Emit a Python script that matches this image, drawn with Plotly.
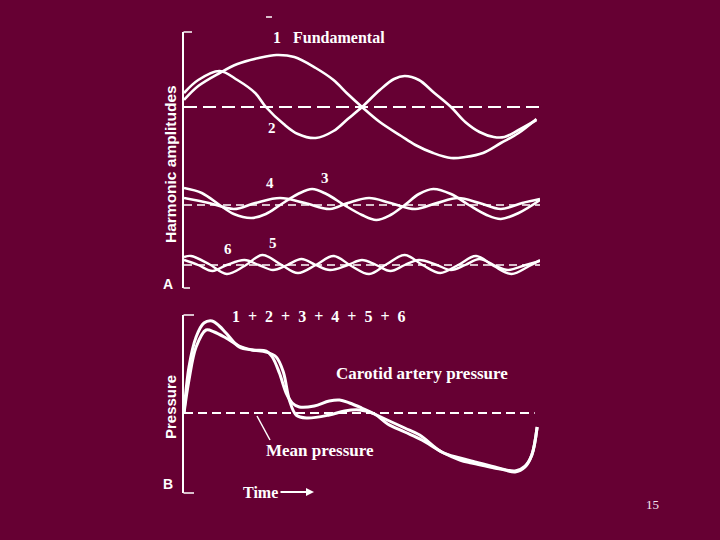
import plotly.graph_objects as go

W, H = 720, 540
BG = "#660033"
INK = "white"
SERIF = "Liberation Serif"
SANS = "Liberation Sans"

# time is in percent of one cardiac cycle
# panel A: harmonic amplitudes, relative to each dashed baseline (arbitrary units)
h1_t = [0, 4, 10, 15, 21, 26, 31, 37, 42, 46, 50, 55, 61, 65, 70, 75, 79, 84, 89, 94, 99]
h1_v = [7, 21, 34, 43, 49, 52, 50, 39, 27, 13, 0, -15, -29, -38, -46, -51, -50, -46, -36, -26, -12]

h2_t = [0, 4, 10, 15, 20, 23, 28, 32, 37, 42, 46, 50, 55, 59, 62, 66, 70, 75, 79, 83, 87, 90, 94, 99]
h2_v = [14, 27, 36, 27, 14, 0, -17, -27, -31, -24, -12, 0, 17, 28, 31, 27, 15, 0, -15, -25, -30, -30, -23, -13]

h3_t = [0, 5, 10, 14, 19, 23, 27, 32, 36, 40, 45, 50, 54, 58, 62, 66, 70, 75, 80, 85, 89, 94, 100]
h3_v = [17, 12, 0, -9, -13, -9, 0, 11, 16, 11, 0, -10, -15, -10, 0, 11, 16, 11, 0, -10, -14, -8, 5]

h4_t = [0, 7, 14, 20, 27, 34, 41, 46, 52, 58, 65, 71, 77, 83, 89, 95, 100]
h4_v = [7, 2, -4, 2, 7, 2, -4, 2, 7, 2, -4, 2, 7, 2, -4, 2, 6]

h5_t = [0, 2, 7, 12, 17, 22, 27, 32, 37, 42, 47, 52, 57, 62, 67, 72, 77, 82, 87, 92, 97, 100]
h5_v = [8, 9, 1, -9, -1, 10, 1, -8, 0, 9, -1, -9, 1, 10, 0, -8, 0, 9, -1, -9, -1, 5]

h6_t = [0, 4, 8, 12, 17, 21, 25, 29, 33, 37, 41, 46, 50, 54, 58, 62, 66, 71, 75, 79, 83, 87, 91, 96, 100]
h6_v = [5, 0, -6, 0, 5, 0, -5, 0, 6, 0, -5, 0, 5, 0, -6, 0, 5, 0, -5, 0, 6, 0, -5, 0, 4]

# panel B: pressure relative to mean pressure
sum_t = [0, 1.4, 3.4, 5.6, 7.9, 9.9, 11.8, 15.5, 19.2, 23.1, 24.8, 26.8, 28.7, 30.4, 32.4,
         36.6, 40.8, 43.7, 46.5, 49.9, 53.5, 57.7, 62.0, 66.2, 72.4, 77.5, 81.7, 87.3, 93.0,
         95.8, 97.7, 99.2]
sum_v = [0, 46, 76, 90, 92, 87, 80, 66, 63, 62, 56, 40, 20, 10, 6,
         7, 12, 13, 10, 5, -1, -8, -15, -22, -39, -45, -49, -54, -58,
         -53, -42, -14]

car_t = [0, 1.4, 3.4, 6.2, 8.5, 11.8, 15.5, 19.2, 23.1, 25.9, 27.9, 29.6, 31.5, 34.4, 40.8,
         45.1, 49.3, 53.5, 57.2, 62.0, 66.8, 72.4, 77.5, 80.8, 85.9, 90.1, 93.0, 95.8, 97.7, 99.2]
car_v = [0, 33, 66, 83, 81, 75, 67, 63, 61, 56, 41, 13, -2, -5, -2,
         2, 3, -1, -11, -19, -27, -39, -47, -50, -54, -57, -59, -54, -42, -14]

baseline_t = [0, 100]

# vertical offsets of the stacked harmonic pairs in panel A
OFF_12, OFF_34, OFF_56 = 181, 83, 23


def px(x):
    return x / W


def py(y):
    return 1 - y / H


fig = go.Figure()


def curve(t, v, off=0, axis="", width=2.6):
    fig.add_trace(go.Scatter(
        x=t, y=[off + a for a in v], mode="lines",
        line=dict(color=INK, width=width, shape="spline", smoothing=1),
        xaxis="x" + axis, yaxis="y" + axis, hoverinfo="skip"))


def dashed(off, axis="", width=2, dash="13px,6px", x_end=100):
    fig.add_trace(go.Scatter(
        x=[baseline_t[0], x_end], y=[off, off], mode="lines",
        line=dict(color=INK, width=width, dash=dash),
        xaxis="x" + axis, yaxis="y" + axis, hoverinfo="skip"))


dashed(OFF_12, width=2, dash="13px,6px")
dashed(OFF_34, width=1.5, dash="8px,5px", x_end=101)
dashed(OFF_56, width=1.5, dash="8px,5px")
curve(h1_t, h1_v, OFF_12)
curve(h2_t, h2_v, OFF_12)
curve(h3_t, h3_v, OFF_34)
curve(h4_t, h4_v, OFF_34)
curve(h5_t, h5_v, OFF_56, width=2.4)
curve(h6_t, h6_v, OFF_56, width=2.4)

dashed(0, axis="2", width=2, dash="9px,5px", x_end=98.5)
curve(sum_t, sum_v, axis="2", width=3)
curve(car_t, car_v, axis="2", width=3)

yax = dict(showline=True, linecolor=INK, linewidth=1.5, ticks="", showticklabels=False,
           showgrid=False, zeroline=False, fixedrange=True)
xax = dict(visible=False, range=[0, 100], domain=[px(184), px(540)], fixedrange=True)

fig.update_layout(
    width=W, height=H,
    margin=dict(l=0, r=0, t=0, b=0),
    paper_bgcolor=BG, plot_bgcolor=BG,
    showlegend=False,
    xaxis=dict(xax, anchor="y"),
    xaxis2=dict(xax, anchor="y2"),
    yaxis=dict(yax, range=[0, 256], domain=[py(288), py(32)], anchor="x"),
    yaxis2=dict(yax, range=[-80, 98], domain=[py(493), py(315)], anchor="x2"),
)

# bracket ends of the two vertical axes
for y_end, x_end in [(32, 192), (288, 190), (315, 194), (493, 194)]:
    fig.add_shape(type="line", xref="paper", yref="paper", x0=px(183.5), x1=px(x_end),
                  y0=py(y_end), y1=py(y_end), line=dict(color=INK, width=1.5))


def label(text, x, y, size=16, family=SERIF, bold=True, angle=0, xanchor="center", color=INK):
    fig.add_annotation(
        text=f"<b>{text}</b>" if bold else text,
        x=px(x), y=py(y), xref="paper", yref="paper",
        xanchor=xanchor, yanchor="middle", showarrow=False, textangle=angle,
        font=dict(family=family, size=size, color=color))


label("1\u2002 Fundamental", 271, 37, xanchor="left")
label("2", 272, 128, size=15)
label("4", 270, 183, size=15)
label("3", 325, 178, size=15)
label("6", 228, 249, size=15)
label("5", 273, 243, size=15)
label("A", 168, 284, size=14, family=SANS)
label("Harmonic amplitudes", 170, 164, size=15.5, family=SANS, angle=-90)

label("1\u2002+\u20022\u2002+\u20023\u2002+\u20024\u2002+\u20025\u2002+\u20026", 230, 316, xanchor="left")
label("Carotid artery pressure", 334, 373, size=17, xanchor="left")
label("Mean pressure", 264, 450, size=17, xanchor="left")
label("Pressure", 170, 407, size=15, family=SANS, angle=-90)
label("B", 168, 484, size=14, family=SANS)
label("Time", 241, 492, xanchor="left")
label("15", 652, 504, size=13, bold=False, color="#f4e6ee")

# leader line to the mean pressure line, small mark at the top, time arrow
fig.add_shape(type="line", xref="paper", yref="paper", x0=px(257), y0=py(416),
              x1=px(270), y1=py(440), line=dict(color=INK, width=1.5))
fig.add_shape(type="line", xref="paper", yref="paper", x0=px(266), y0=py(17),
              x1=px(272), y1=py(17), line=dict(color=INK, width=1.5))
fig.add_annotation(x=px(314), y=py(492), xref="paper", yref="paper", ax=-35, ay=0,
                   text="", showarrow=True, arrowhead=2, arrowsize=0.8, arrowwidth=2,
                   arrowcolor=INK)

fig.write_html("out.html", config={"displayModeBar": False},
               post_script="document.body.style.margin='0';"
               "document.body.style.background='" + BG + "';")
